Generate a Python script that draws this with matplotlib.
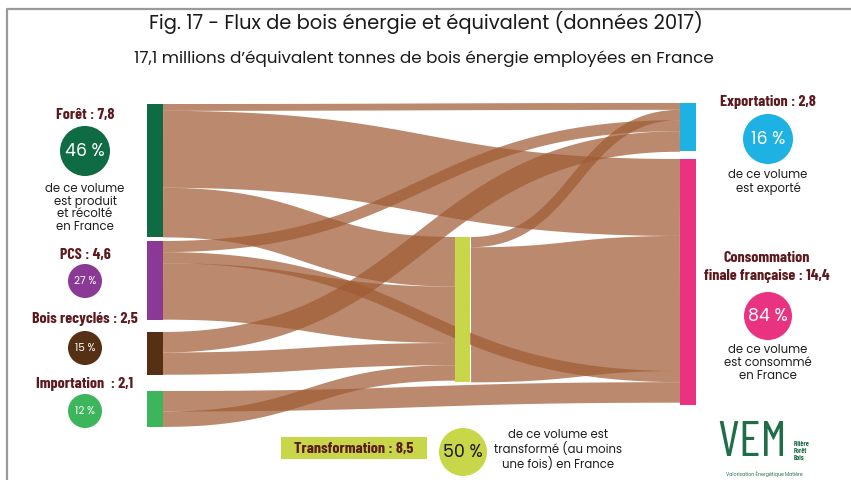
import numpy as np
import matplotlib.pyplot as plt
from matplotlib.patches import Rectangle, Circle
from matplotlib import font_manager

# ---- data (millions de tonnes, données 2017) ----
src_names = ["Forêt", "PCS", "Bois recyclés", "Importation"]
src_vals = [7.8, 4.6, 2.5, 2.1]
src_pct = ["46 %", "27 %", "15 %", "12 %"]
dst_names = ["Exportation", "Consommation"]
dst_vals = [2.8, 14.4]
dst_pct = ["16 %", "84 %"]
mid_name = "Transformation"
mid_val = 8.5
mid_pct = "50 %"

flow_src = ["Forêt", "Forêt", "Forêt", "PCS", "PCS", "PCS",
            "Bois recyclés", "Bois recyclés", "Importation", "Importation",
            "Transformation", "Transformation"]
flow_dst = ["Exportation", "Consommation", "Transformation",
            "Exportation", "Consommation", "Transformation",
            "Exportation", "Transformation", "Consommation", "Transformation",
            "Exportation", "Consommation"]
flow_vals = [0.4, 4.5, 2.9, 0.65, 0.65, 3.3, 1.2, 1.3, 1.2, 0.9, 0.6, 7.9]

# order of incoming bands at each target node (top to bottom)
in_order = {
    "Exportation": ["Forêt", "Transformation", "PCS", "Bois recyclés"],
    "Consommation": ["Forêt", "Transformation", "PCS", "Importation"],
    "Transformation": ["Forêt", "PCS", "Bois recyclés", "Importation"],
}

# ---- fonts ----
fonts = font_manager.fontManager.ttflist
installed = {f.name for f in fonts}
# Montserrat only if a regular (400) face is there, else a close geometric one
if any(f.name == "Montserrat" and f.weight in (400, "normal", "regular") for f in fonts):
    body = ["Montserrat", "DejaVu Sans"]
elif "Poppins" in installed:
    body = ["Poppins", "DejaVu Sans"]
else:
    body = ["DejaVu Sans"]
cond = ["Barlow Condensed", "DejaVu Sans"] if "Barlow Condensed" in installed else ["DejaVu Sans"]

# ---- layout ----
W, H = 851, 481
scale = 17.1  # px per million t
colors = {"Forêt": "#0e6b43", "PCS": "#8a3a95", "Bois recyclés": "#553014",
          "Importation": "#3db55b", "Transformation": "#c8d74a",
          "Exportation": "#1eb1e4", "Consommation": "#ea3380"}
node_x = {"Forêt": 147, "PCS": 147, "Bois recyclés": 147, "Importation": 147,
          "Transformation": 455, "Exportation": 680, "Consommation": 680}
node_top = {"Forêt": 105, "PCS": 242, "Bois recyclés": 333, "Importation": 392,
            "Transformation": 238, "Exportation": 104, "Consommation": 160}
node_w = 16
node_vals = dict(zip(src_names + dst_names + [mid_name],
                     src_vals + dst_vals + [mid_val]))

label_col = "#5c1a1e"
body_col = "#1e1e1e"
flow_col = "#9f5a33"
logo_col = "#1f6e47"

fig = plt.figure(figsize=(W / 100, H / 100), dpi=100)
ax = fig.add_axes([0, 0, 1, 1])
ax.set_xlim(0, W)
ax.set_ylim(H, 0)
ax.axis("off")

# frame
ax.plot([7, 7, W], [H, 9.5, 9.5], color="#9a9a9a", lw=1.6, solid_capstyle="butt")


def band(x0, y0, x1, y1, h):
    t = np.linspace(0, 1, 80)
    xm = (x0 + x1) / 2
    bx = (1 - t) ** 3 * x0 + 3 * (1 - t) ** 2 * t * xm + 3 * (1 - t) * t ** 2 * xm + t ** 3 * x1
    by = (1 - t) ** 3 * y0 + 3 * (1 - t) ** 2 * t * y0 + 3 * (1 - t) * t ** 2 * y1 + t ** 3 * y1
    ax.plot(bx, by, color=flow_col, alpha=0.71, lw=h * 72 / 100,
            solid_capstyle="butt", zorder=1)


# stacking offsets
out_off = {k: 0.0 for k in node_vals}
in_pos = {}
for dst, order in in_order.items():
    off = 0.0
    for s in order:
        in_pos[(s, dst)] = off
        i = [j for j in range(len(flow_vals)) if flow_src[j] == s and flow_dst[j] == dst][0]
        off += flow_vals[i] * scale

for s, d, v in zip(flow_src, flow_dst, flow_vals):
    h = v * scale
    y0 = node_top[s] + out_off[s] + h / 2
    out_off[s] += h
    y1 = node_top[d] + in_pos[(s, d)] + h / 2
    band(node_x[s] + node_w, y0, node_x[d], y1, h)

# nodes
for n, v in node_vals.items():
    w = 15 if n == mid_name else node_w
    ax.add_patch(Rectangle((node_x[n], node_top[n]), w, v * scale,
                           color=colors[n], lw=0, zorder=3))

# titles
ax.text(426, 22, "Fig. 17 - Flux de bois énergie et équivalent (données 2017)",
        ha="center", va="center", fontsize=14, color="#1a1a1a", family=body)
ax.text(424, 59, "17,1 millions d’équivalent tonnes de bois énergie employées en France",
        ha="center", va="center", fontsize=12.1, color="#1a1a1a", family=body)

# left labels
fmt = lambda v: f"{v:.1f}".replace(".", ",")
lab_y = [115, 255, 319, 384]
circ_y = [152, 282, 349, 412]
circ_r = [25, 17, 17, 17]
for name, v, p, ly, cy, r in zip(src_names, src_vals, src_pct, lab_y, circ_y, circ_r):
    sep = "  : " if name == "Importation" else " : "
    ax.text(85, ly, name + sep + fmt(v), ha="center", va="center", fontsize=11.5,
            fontweight="bold", color=label_col, family=cond)
    ax.add_patch(Circle((85, cy), r, color=colors[name], lw=0))
    ax.text(85, cy, p, ha="center", va="center", color="white",
            fontsize=12.5 if r > 20 else 7.5, family=body)
ax.text(85, 208, "de ce volume\nest produit\net récolté\nen France", ha="center",
        va="center", fontsize=8.4, color=body_col, family=body, linespacing=1.1)

# right labels
ax.text(768, 102, "Exportation : " + fmt(dst_vals[0]), ha="center", va="center",
        fontsize=11.5, fontweight="bold", color=label_col, family=cond)
ax.add_patch(Circle((768, 140), 25, color=colors["Exportation"], lw=0))
ax.text(768, 140, dst_pct[0], ha="center", va="center", color="white",
        fontsize=12.5, family=body)
ax.text(768, 182, "de ce volume\nest exporté", ha="center", va="center",
        fontsize=8.4, color=body_col, family=body, linespacing=1.1)

ax.text(767, 267, "Consommation\nfinale française : " + fmt(dst_vals[1]),
        ha="center", va="center", fontsize=11.5, fontweight="bold",
        color=label_col, family=cond, linespacing=1.3)
ax.add_patch(Circle((768, 317), 24, color=colors["Consommation"], lw=0))
ax.text(768, 317, dst_pct[1], ha="center", va="center", color="white",
        fontsize=12.5, family=body)
ax.text(768, 363, "de ce volume\nest consommé\nen France", ha="center",
        va="center", fontsize=8.4, color=body_col, family=body, linespacing=1.1)

# transformation box
ax.add_patch(Rectangle((281, 438), 146, 22, color=colors[mid_name], lw=0))
ax.text(354, 449.5, mid_name + " : " + fmt(mid_val), ha="center", va="center",
        fontsize=11.5, fontweight="bold", color=label_col, family=cond)
ax.add_patch(Circle((463, 453), 24, color=colors[mid_name], lw=0))
ax.text(463, 453, mid_pct, ha="center", va="center", color="#1a1a1a",
        fontsize=12.5, family=body)
ax.text(558, 450, "de ce volume est\ntransformé (au moins\nune fois) en France",
        ha="center", va="center", fontsize=8.4, color=body_col, family=body,
        linespacing=1.1)

# logo
ax.text(752, 444, "VEM", ha="center", va="center", fontsize=36, color=logo_col,
        family=cond)
ax.text(794, 451, "Filière\nForêt\nBois", ha="left", va="center", fontsize=5,
        color=logo_col, family=cond, fontweight="bold", linespacing=1.2)
ax.text(764, 474, "Valorisation Énergétique Matière", ha="center", va="center",
        fontsize=3.4, color=logo_col, family=body)

fig.savefig("out.png", dpi=100)
